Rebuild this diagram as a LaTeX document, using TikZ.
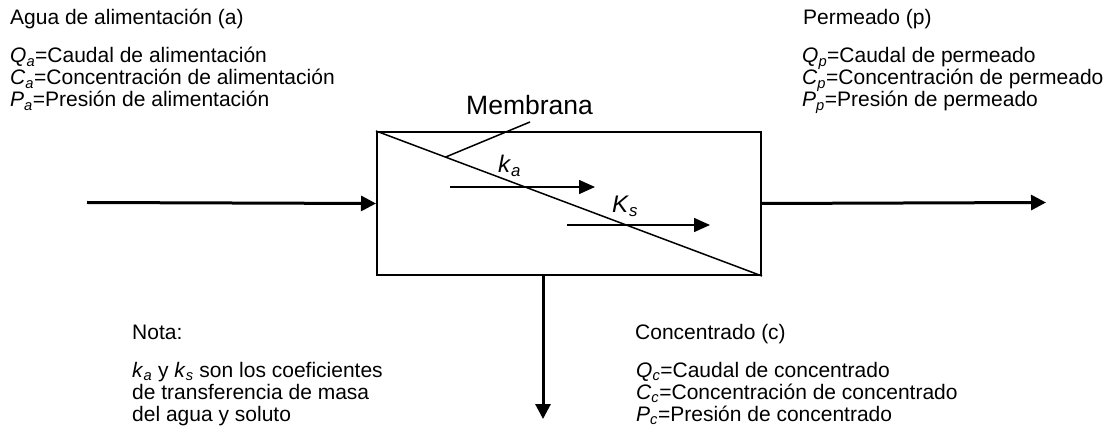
\documentclass[tikz,border=0pt]{standalone}
\usepackage{fontspec}
\setmainfont{Liberation Sans}
\usetikzlibrary{arrows.meta,calc}
\tikzset{
  txt/.style={anchor=base west, inner sep=0pt, font=\fontsize{21}{22}\selectfont},
  big/.style={anchor=base west, inner sep=0pt, font=\fontsize{24}{26}\selectfont},
  membstyle/.style={anchor=base west, inner sep=0pt, font=\fontsize{26.5}{28}\selectfont},
  flow/.style={line width=3pt, -{Triangle[length=15pt,width=15pt]}},
  innerflow/.style={line width=1.5pt, -{Triangle[length=16pt,width=14pt]}},
  thinline/.style={line width=1.5pt},
  boxstyle/.style={draw, line width=2pt, inner sep=0pt, minimum width=384pt, minimum height=143pt, anchor=north west}
}
\newcommand\vq[2]{\textit{#1}\textsubscript{\textit{#2}}}
\begin{document}
\begin{tikzpicture}[x=1pt,y=-1pt]
\useasboundingbox (0,0) rectangle (1110,427);
% box
\node[boxstyle] (box) at (376,131) {};
\draw[thinline] (box.north west) -- (box.south east);
% membrana
\node[membstyle] (memb) at (466,115) {Membrana};
\coordinate (mtop) at (530,122);
\draw[thinline] (mtop) -- ($(box.north west)!0.18!(box.south east)$);
% inner arrows
\coordinate (ka1) at (450,187);
\coordinate (ka2) at (595,187);
\coordinate (ks1) at (567,225);
\coordinate (ks2) at (710,225);
\draw[innerflow] (ka1) -- (ka2);
\draw[innerflow] (ks1) -- (ks2);
\node[big] (kalab) at (498,173) {\vq{k}{a}};
\node[big] (kslab) at (612,213) {\vq{K}{s}};
% main flows
\coordinate (in) at (87,202.5);
\coordinate (out) at (1046,202.5);
\coordinate (dn) at (543,419);
\draw[flow] (in) -- (box.west);
\draw[flow] (box.east) -- (out);
\draw[flow] (box.south -| dn) -- (dn);
% feed text
\node[txt] (feedh) at (10,25) {Agua de alimentación (a)};
\node[txt] (feed1) at (10,63) {\vq{Q}{a}=Caudal de alimentación};
\node[txt] (feed2) at (10,85) {\vq{C}{a}=Concentración de alimentación};
\node[txt] (feed3) at (10,107) {\vq{P}{a}=Presión de alimentación};
% permeate text
\node[txt] (permh) at (803,25) {Permeado (p)};
\node[txt] (perm1) at (802,63) {\vq{Q}{p}=Caudal de permeado};
\node[txt] (perm2) at (802,85) {\vq{C}{p}=Concentración de permeado};
\node[txt] (perm3) at (802,107) {\vq{P}{p}=Presión de permeado};
% note
\node[txt] (noteh) at (132,339) {Nota:};
\node[txt] (note1) at (132,377) {\vq{k}{a} y \vq{k}{s} son los coeficientes};
\node[txt] (note2) at (132,399) {de transferencia de masa};
\node[txt] (note3) at (132,421) {del agua y soluto};
% concentrate text
\node[txt] (conch) at (635,339) {Concentrado (c)};
\node[txt] (conc1) at (636,377) {\vq{Q}{c}=Caudal de concentrado};
\node[txt] (conc2) at (636,399) {\vq{C}{c}=Concentración de concentrado};
\node[txt] (conc3) at (636,421) {\vq{P}{c}=Presión de concentrado};
\end{tikzpicture}
\end{document}
